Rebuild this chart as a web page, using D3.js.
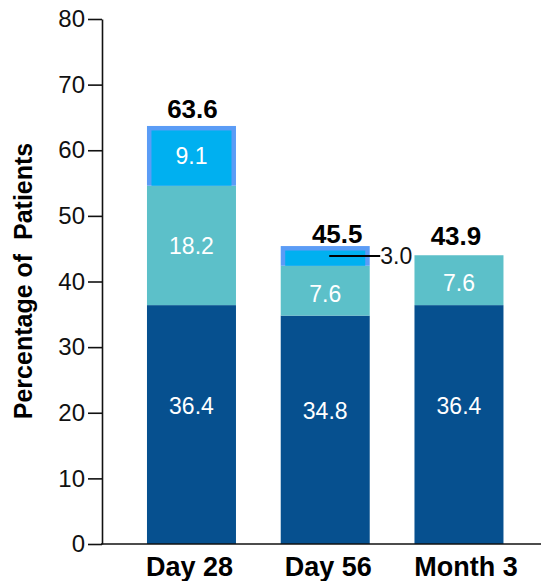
<!DOCTYPE html>
<html>
<head>
<meta charset="utf-8">
<script src="https://cdn.jsdelivr.net/npm/d3@7"></script>
<style>
  html, body { margin: 0; padding: 0; background: #fff; }
  svg { display: block; font-family: "Liberation Sans", Arial, sans-serif; }
</style>
</head>
<body>
<svg id="chart" width="541" height="581"></svg>
<script>
// Response categories per visit (percent of patients)
const categories = ["Day 28", "Day 56", "Month 3"];
const baseValues = [36.4, 34.8, 36.4];   // bottom segment
const midValues = [18.2, 7.6, 7.6];      // middle segment
const topValues = [9.1, 3.0, 0];         // top segment
const totals = [63.6, 45.5, 43.9];       // bar totals shown above
const yTicks = [0, 10, 20, 30, 40, 50, 60, 70, 80];

const seriesKeys = ["base", "mid", "top"];
const colors = { base: "#06508f", mid: "#5cc0c9", top: "#00b0f0" };
const outlineColor = "#5b9cf6";

const rows = categories.map((c, i) => ({
  category: c, base: baseValues[i], mid: midValues[i], top: topValues[i], total: totals[i]
}));

const svg = d3.select("#chart");
const axisX = 102;

const y = d3.scaleLinear().domain([0, 80]).range([544, 19]);
const x = d3.scaleBand()
  .domain(categories)
  .range([124.6, 525.85])
  .paddingInner(0.3346)
  .paddingOuter(0.1673);

const stacked = d3.stack().keys(seriesKeys)(rows);

// Stacked bars
stacked.forEach(layer => {
  const key = layer.key;
  const g = svg.append("g").attr("class", "layer-" + key);
  layer.forEach(d => {
    const v = d[1] - d[0];
    if (v <= 0) return;
    const cx = x(d.data.category);
    const bw = x.bandwidth();
    const yTop = y(d[1]);
    const h = y(d[0]) - y(d[1]);
    if (key === "top") {
      // top segment carries a lighter outline along its top and sides
      const inset = 4.5;
      g.append("rect").attr("x", cx).attr("y", yTop).attr("width", bw).attr("height", h)
        .attr("fill", outlineColor);
      g.append("rect").attr("x", cx + inset).attr("y", yTop + inset)
        .attr("width", bw - 2 * inset).attr("height", h - inset)
        .attr("fill", colors.top);
    } else {
      g.append("rect").attr("x", cx).attr("y", yTop).attr("width", bw).attr("height", h)
        .attr("fill", colors[key]);
    }
  });
});

// Segment value labels
stacked.forEach(layer => {
  const key = layer.key;
  layer.forEach(d => {
    const v = d.data[key];
    if (v <= 0) return;
    const cx = x(d.data.category) + x.bandwidth() / 2;
    const mid = (y(d[0]) + y(d[1])) / 2;
    const h = y(d[0]) - y(d[1]);
    if (h < 25) {
      // thin segment: value placed to the right with a leader line
      svg.append("line")
        .attr("x1", cx + 4).attr("x2", cx + 55)
        .attr("y1", mid).attr("y2", mid)
        .attr("stroke", "#000").attr("stroke-width", 2);
      svg.append("text")
        .attr("x", cx + 55).attr("y", mid).attr("dy", "0.35em")
        .attr("font-size", 23).attr("fill", "#111")
        .text(v.toFixed(1));
      return;
    }
    const shift = key === "base" ? -19 : (key === "mid" && h < 60 ? 3 : 0);
    svg.append("text")
      .attr("x", cx).attr("y", mid + shift).attr("dy", "0.36em")
      .attr("text-anchor", "middle").attr("font-size", 23).attr("fill", "#fff")
      .text(v.toFixed(1));
  });
});

// Totals above each bar
const totalNudge = { "Day 28": [1, -8], "Day 56": [12, -3], "Month 3": [-3, -10] };
rows.forEach(r => {
  const n = totalNudge[r.category];
  svg.append("text")
    .attr("x", x(r.category) + x.bandwidth() / 2 + n[0])
    .attr("y", y(r.base + r.mid + r.top) + n[1])
    .attr("text-anchor", "middle").attr("font-size", 26).attr("font-weight", "bold")
    .attr("fill", "#000")
    .text(r.total.toFixed(1));
});

// Y axis
const yAxis = svg.append("g")
  .attr("transform", `translate(${axisX},0)`)
  .call(d3.axisLeft(y).tickValues(yTicks).tickSize(14).tickSizeOuter(0).tickPadding(3)
    .tickFormat(d3.format("d")));
yAxis.select(".domain").attr("stroke", "#111").attr("stroke-width", 1.6);
yAxis.selectAll(".tick line").attr("stroke", "#111").attr("stroke-width", 1.6);
yAxis.selectAll(".tick text")
  .attr("font-size", 24).attr("fill", "#111")
  .attr("font-family", "'Liberation Sans', Arial, sans-serif");

// X axis baseline
svg.append("line")
  .attr("x1", axisX - 1).attr("x2", 541)
  .attr("y1", y(0)).attr("y2", y(0))
  .attr("stroke", "#111").attr("stroke-width", 1.6);

// Category labels
const labelNudge = { "Day 28": -2, "Day 56": 3, "Month 3": 7 };
categories.forEach(c => {
  svg.append("text")
    .attr("x", x(c) + x.bandwidth() / 2 + labelNudge[c])
    .attr("y", 576)
    .attr("text-anchor", "middle").attr("font-size", 27).attr("font-weight", "bold")
    .attr("fill", "#000")
    .text(c);
});

// Y axis title
svg.append("text")
  .attr("transform", "translate(32,281) rotate(-90)")
  .attr("text-anchor", "middle").attr("font-size", 25).attr("font-weight", "bold")
  .attr("fill", "#000")
  .style("white-space", "pre")
  .text("Percentage of  Patients");
</script>
</body>
</html>
